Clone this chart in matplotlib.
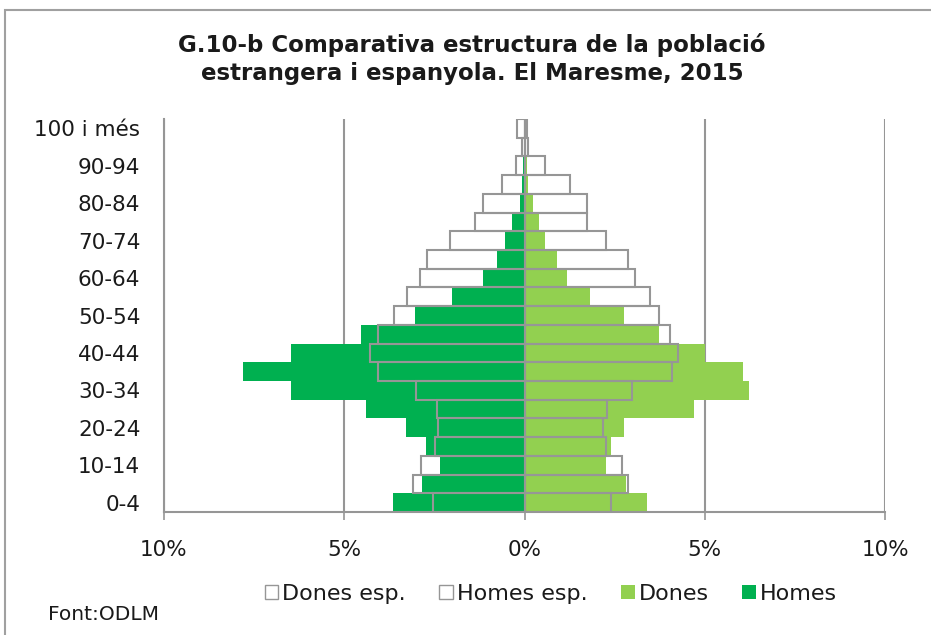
import numpy as np
import matplotlib
matplotlib.use("Agg")
import matplotlib.pyplot as plt
from matplotlib.patches import Rectangle, Patch

ages = ['0-4', '5-9', '10-14', '15-19', '20-24', '25-29', '30-34', '35-39',
        '40-44', '45-49', '50-54', '55-59', '60-64', '65-69', '70-74',
        '75-79', '80-84', '85-89', '90-94', '95-99', '100 i més']

# % over total population, foreign (filled) and Spanish (outline)
homes = [3.66, 2.85, 2.34, 2.73, 3.29, 4.41, 6.48, 7.82, 6.47, 4.53, 3.03,
         2.02, 1.16, 0.77, 0.53, 0.34, 0.12, 0.07, 0.03, 0.01, 0.0]
dones = [3.41, 2.81, 2.25, 2.39, 2.77, 4.69, 6.24, 6.06, 5.01, 3.72, 2.76,
         1.81, 1.18, 0.89, 0.58, 0.39, 0.24, 0.11, 0.06, 0.01, 0.0]
homes_esp = [2.55, 3.10, 2.88, 2.48, 2.39, 2.43, 3.01, 4.07, 4.29, 4.07, 3.62,
             3.27, 2.91, 2.71, 2.08, 1.37, 1.16, 0.62, 0.24, 0.06, 0.22]
dones_esp = [2.40, 2.88, 2.71, 2.26, 2.17, 2.30, 2.97, 4.09, 4.25, 4.04, 3.72,
             3.49, 3.06, 2.88, 2.27, 1.73, 1.73, 1.25, 0.58, 0.11, 0.06]

xticks = [-10, -5, 0, 5, 10]
xticklabels = ['10%', '5%', '0%', '5%', '10%']

dark = '#00b050'
light = '#92d050'
gray = '#969696'

fig = plt.figure(figsize=(9.31, 6.35), dpi=100)
ax = fig.add_axes([164/931, 1-512/635, (885-164)/931, (512-119)/635])

y = np.arange(len(ages))
ax.barh(y, -np.array(homes), height=1.0, color=dark, zorder=2)
ax.barh(y, dones, height=1.0, color=light, zorder=2)
ax.barh(y, -np.array(homes_esp), height=1.0, fill=False, edgecolor=gray, lw=1.5, zorder=3)
ax.barh(y, dones_esp, height=1.0, fill=False, edgecolor=gray, lw=1.5, zorder=3)

ax.set_xlim(-10, 10)
ax.set_ylim(-0.5, len(ages) - 0.5)
ax.set_xticks(xticks)
ax.set_xticklabels(xticklabels, fontsize=15.5, color='#1a1a1a')
ax.set_yticks(y[::2])
ax.set_yticklabels(ages[::2], fontsize=15.5, color='#1a1a1a')
ax.tick_params(axis='y', length=0, pad=17)
ax.tick_params(axis='x', length=6, color=gray, width=1.2, pad=14)
for xv in xticks:
    ax.axvline(xv, color=gray, lw=1.5, zorder=1)
for s in ['top', 'right']:
    ax.spines[s].set_visible(False)
for s in ['left', 'bottom']:
    ax.spines[s].set_color(gray)
    ax.spines[s].set_linewidth(1.5)

fig.text(472/931, 1-59/635,
         'G.10-b Comparativa estructura de la població\nestrangera i espanyola. El Maresme, 2015',
         ha='center', va='center', fontsize=16.5, fontweight='bold',
         color='#1a1a1a', linespacing=1.25)

handles = [Patch(facecolor='white', edgecolor=gray, lw=1),
           Patch(facecolor='white', edgecolor=gray, lw=1),
           Patch(facecolor=light), Patch(facecolor=dark)]
labels = ['Dones esp.', 'Homes esp.', 'Dones', 'Homes']
fig.legend(handles, labels, loc='center', bbox_to_anchor=(551/931, 1-594/635),
           ncol=4, frameon=False, fontsize=16, handlelength=0.6, handleheight=0.6,
           handletextpad=0.2, columnspacing=1.5, labelcolor='#1a1a1a')

fig.text(48/931, 1-615/635, 'Font:ODLM', ha='left', va='center', fontsize=14.5,
         color='#1a1a1a')

fig.patches.append(Rectangle((5/931, -0.1), 1.2, 1.1 - 10/635, transform=fig.transFigure,
                             fill=False, edgecolor='#a0a0a0', lw=1.5))

fig.savefig('out.png', dpi=100)
